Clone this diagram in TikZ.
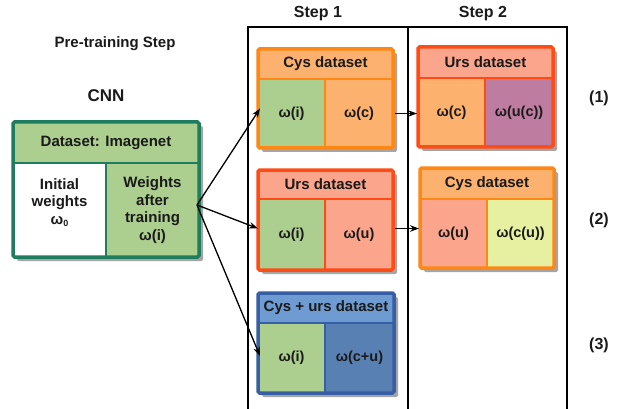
\documentclass[tikz,border=0pt]{standalone}
\usepackage{fontspec}
\setmainfont{Liberation Sans}
\usetikzlibrary{arrows.meta}
\definecolor{txt}{RGB}{26,26,26}
\definecolor{gBorder}{RGB}{30,125,95}
\definecolor{gFill}{RGB}{172,206,143}
\definecolor{oBorder}{RGB}{255,135,20}
\definecolor{oFill}{RGB}{252,178,110}
\definecolor{rBorder}{RGB}{255,75,20}
\definecolor{rFill}{RGB}{250,165,140}
\definecolor{pFill}{RGB}{190,125,160}
\definecolor{yFill}{RGB}{230,240,160}
\definecolor{bBorder}{RGB}{55,95,165}
\definecolor{bHead}{RGB}{110,155,210}
\definecolor{bFill}{RGB}{88,128,178}
\definecolor{shadowc}{RGB}{165,165,165}
\begin{document}
\begin{tikzpicture}[x=1pt,y=-1pt,
  font=\bfseries\fontsize{15}{17.5}\selectfont, text=txt,
  cell/.style={draw=none, inner sep=0pt, outer sep=0pt, anchor=north west, align=center, text=txt,
    font=\bfseries\fontsize{14.5}{17.5}\selectfont},
  headcell/.style={cell, font=\bfseries\fontsize{15}{17.5}\selectfont},
  outerline/.style={line width=3.5pt, rounded corners=1.5pt},
  innerline/.style={line width=1.8pt},
  shadowbox/.style={fill=shadowc, rounded corners=2pt},
  title/.style={inner sep=0pt, font=\bfseries\fontsize{16}{18}\selectfont},
  frame/.style={line width=1.4pt, draw=black},
  conn/.style={line width=1.3pt, -{Stealth[length=9pt,width=6.5pt]}}
]
\useasboundingbox (0,0) rectangle (621,409);
\fill[white] (0,0) rectangle (621,409);

% titles
\node[title, font=\bfseries\fontsize{15}{17}\selectfont] (pre) at (115,44) {Pre-training Step};
\node[title, font=\bfseries\fontsize{17}{19}\selectfont] (cnn) at (106,96) {CNN};
\node[title] (s1) at (318,14) {Step 1};
\node[title] (s2) at (483,14) {Step 2};
\node[title] (l1) at (599,98) {(1)};
\node[title] (l2) at (599,220) {(2)};
\node[title] (l3) at (599,345) {(3)};

% step frames
\draw[frame] (248,412) -- (248,27) -- (408,27) -- (408,412);
\draw[frame] (408,27) -- (567,27) -- (567,412);

% CNN box
\fill[shadowbox] (17,126) rectangle (203,261);
\node[headcell, fill=gFill, minimum width=186pt, minimum height=41pt] (cnnH) at (13,122) {Dataset: Imagenet};
\node[headcell, fill=white, minimum width=93pt, minimum height=94pt] (cnnL) at (13,163)
  {Initial\\weights\\ω\raisebox{-2pt}{\fontsize{9}{9}\selectfont 0}\\\mbox{}};
\node[headcell, fill=gFill, minimum width=93pt, minimum height=94pt] (cnnR) at (106,163)
  {Weights\\after\\training\\ω(i)};
\draw[innerline, gBorder] (cnnH.south west) -- (cnnH.south east) (cnnL.north east) -- (cnnL.south east);
\draw[outerline, gBorder] (cnnH.north west) rectangle (cnnR.south east);

% Step 1, row 1: Cys dataset
\fill[shadowbox] (262,53) rectangle (397,152);
\node[headcell, fill=oFill, minimum width=135pt, minimum height=30pt] (aH) at (258,49) {Cys dataset};
\node[cell, fill=gFill, minimum width=67pt, minimum height=69pt] (aL) at (258,79) {ω(i)};
\node[cell, fill=oFill, minimum width=68pt, minimum height=69pt] (aR) at (325,79) {ω(c)};
\draw[innerline, oBorder] (aH.south west) -- (aH.south east) (aL.north east) -- (aL.south east);
\draw[outerline, oBorder] (aH.north west) rectangle (aR.south east);

% Step 1, row 2: Urs dataset
\fill[shadowbox] (262,174) rectangle (397,274);
\node[headcell, fill=rFill, minimum width=135pt, minimum height=29pt] (bH) at (258,170) {Urs dataset};
\node[cell, fill=gFill, minimum width=67pt, minimum height=71pt] (bL) at (258,199) {ω(i)};
\node[cell, fill=rFill, minimum width=68pt, minimum height=71pt] (bR) at (325,199) {ω(u)};
\draw[innerline, rBorder] (bH.south west) -- (bH.south east) (bL.north east) -- (bL.south east);
\draw[outerline, rBorder] (bH.north west) rectangle (bR.south east);

% Step 1, row 3: Cys + urs dataset
\fill[shadowbox] (262,297) rectangle (398,397);
\node[headcell, fill=bHead, minimum width=136pt, minimum height=30pt] (cH) at (258,293) {Cys + urs dataset};
\node[cell, fill=gFill, minimum width=67pt, minimum height=70pt] (cL) at (258,323) {ω(i)};
\node[cell, fill=bFill, minimum width=69pt, minimum height=70pt] (cR) at (325,323) {ω(c+u)};
\draw[innerline, bBorder] (cH.south west) -- (cH.south east) (cL.north east) -- (cL.south east);
\draw[outerline, bBorder] (cH.north west) rectangle (cR.south east);

% Step 2, row 1: Urs dataset
\fill[shadowbox] (422,51) rectangle (557,151);
\node[headcell, fill=rFill, minimum width=135pt, minimum height=31pt] (dH) at (418,47) {Urs dataset};
\node[cell, fill=oFill, minimum width=67pt, minimum height=69pt] (dL) at (418,78) {ω(c)};
\node[cell, fill=pFill, minimum width=68pt, minimum height=69pt] (dR) at (485,78) {ω(u(c))};
\draw[innerline, rBorder] (dH.south west) -- (dH.south east) (dL.north east) -- (dL.south east);
\draw[outerline, rBorder] (dH.north west) rectangle (dR.south east);

% Step 2, row 2: Cys dataset
\fill[shadowbox] (424,172) rectangle (558,272);
\node[headcell, fill=oFill, minimum width=134pt, minimum height=31pt] (eH) at (420,168) {Cys dataset};
\node[cell, fill=rFill, minimum width=67pt, minimum height=69pt] (eL) at (420,199) {ω(u)};
\node[cell, fill=yFill, minimum width=67pt, minimum height=69pt] (eR) at (487,199) {ω(c(u))};
\draw[innerline, oBorder] (eH.south west) -- (eH.south east) (eL.north east) -- (eL.south east);
\draw[outerline, oBorder] (eH.north west) rectangle (eR.south east);

% connectors
\coordinate (src) at ([yshift=5pt,xshift=-2pt]cnnR.east);
\draw[conn] (src) -- ([yshift=5pt,xshift=2pt]aL.west);
\draw[conn] (src) -- ([yshift=6pt]bL.west);
\draw[conn] (src) -- ([yshift=2pt,xshift=2pt]cL.west);
\draw[conn] ([xshift=2pt]aR.east) -- ([xshift=-1pt]aR.east -| dL.west);
\draw[conn] ([yshift=6pt,xshift=2pt]bR.east) -- ([yshift=6pt,xshift=-1pt]bR.east -| eL.west);
\end{tikzpicture}
\end{document}
